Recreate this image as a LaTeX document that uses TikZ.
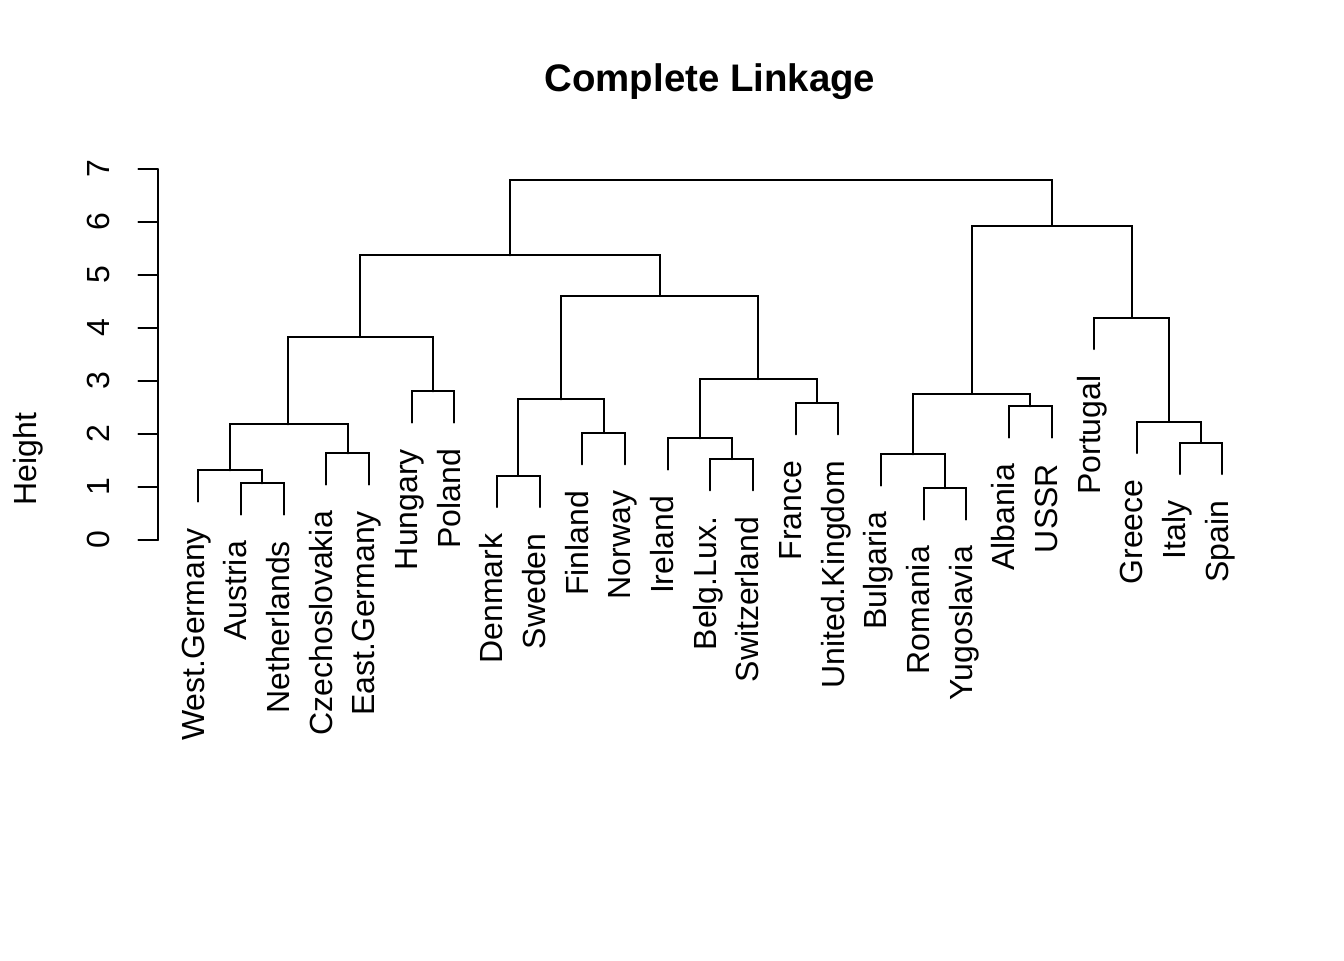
\documentclass[tikz,border=0pt]{standalone}
\usepackage{fontspec}
\setmainfont{Liberation Sans}
\usetikzlibrary{calc}
\tikzset{
  tree/.style={line width=0.75pt, line cap=round, line join=miter},
  lab/.style={rotate=90, anchor=base east, inner sep=0pt, font=\fontsize{12}{14}\selectfont},
  ticklab/.style={rotate=90, anchor=base, inner sep=0pt, font=\fontsize{12}{14}\selectfont},
}
\begin{document}
\begin{tikzpicture}[x=0.375pt, y=-0.375pt]
\path[use as bounding box] (0,0) rectangle (1344,960);
% leaves (bottom end of hanging branch)
\coordinate (wg)   at (198.3, 501.6);
\coordinate (aus)  at (240.97, 514.6);
\coordinate (neth) at (283.63, 514.6);
\coordinate (cz)   at (326.3, 484.6);
\coordinate (eg)   at (368.97, 484.6);
\coordinate (hun)  at (411.63, 422.6);
\coordinate (pol)  at (454.3, 422.6);
\coordinate (den)  at (496.97, 507);
\coordinate (swe)  at (539.63, 507);
\coordinate (fin)  at (582.3, 464.3);
\coordinate (nor)  at (624.97, 464.3);
\coordinate (ire)  at (667.63, 469.6);
\coordinate (bel)  at (710.3, 490.3);
\coordinate (swi)  at (752.97, 490.3);
\coordinate (fra)  at (795.63, 434.3);
\coordinate (uk)   at (838.3, 434.3);
\coordinate (bul)  at (880.97, 485.6);
\coordinate (rom)  at (923.63, 519.6);
\coordinate (yug)  at (966.3, 519.6);
\coordinate (alb)  at (1008.97, 437.6);
\coordinate (ussr) at (1051.63, 437.6);
\coordinate (por)  at (1094.3, 349);
\coordinate (gre)  at (1136.97, 453);
\coordinate (ita)  at (1179.63, 474);
\coordinate (spa)  at (1222.3, 474);
% merges
\coordinate (m1)  at (262.3, 483.3);
\coordinate (m2)  at (230.3, 470.3);
\coordinate (m3)  at (347.6, 453.3);
\coordinate (m4)  at (288.3, 424.3);
\coordinate (m5)  at (432.97, 391.3);
\coordinate (m6)  at (360.3, 337);
\coordinate (m7)  at (518.3, 475.7);
\coordinate (m8)  at (603.6, 433);
\coordinate (m9)  at (560.97, 399.3);
\coordinate (m10) at (731.6, 459);
\coordinate (m11) at (699.6, 438.3);
\coordinate (m12) at (816.97, 403);
\coordinate (m13) at (758.3, 379);
\coordinate (m14) at (659.6, 296);
\coordinate (m15) at (510.3, 255.3);
\coordinate (m16) at (944.97, 488.3);
\coordinate (m17) at (912.97, 454.3);
\coordinate (m18) at (1030.3, 406.3);
\coordinate (m19) at (971.6, 393.7);
\coordinate (m20) at (1200.97, 442.7);
\coordinate (m21) at (1168.97, 421.7);
\coordinate (m22) at (1131.6, 317.7);
\coordinate (m23) at (1051.63, 225.7);
\coordinate (m24) at (780.97, 179.7);
% tree
\draw[tree] (aus) |- (m1) -| (neth);
\draw[tree] (wg) |- (m2) -| (m1);
\draw[tree] (cz) |- (m3) -| (eg);
\draw[tree] (m2) |- (m4) -| (m3);
\draw[tree] (hun) |- (m5) -| (pol);
\draw[tree] (m4) |- (m6) -| (m5);
\draw[tree] (den) |- (m7) -| (swe);
\draw[tree] (fin) |- (m8) -| (nor);
\draw[tree] (m7) |- (m9) -| (m8);
\draw[tree] (bel) |- (m10) -| (swi);
\draw[tree] (ire) |- (m11) -| (m10);
\draw[tree] (fra) |- (m12) -| (uk);
\draw[tree] (m11) |- (m13) -| (m12);
\draw[tree] (m9) |- (m14) -| (m13);
\draw[tree] (m6) |- (m15) -| (m14);
\draw[tree] (rom) |- (m16) -| (yug);
\draw[tree] (bul) |- (m17) -| (m16);
\draw[tree] (alb) |- (m18) -| (ussr);
\draw[tree] (m17) |- (m19) -| (m18);
\draw[tree] (ita) |- (m20) -| (spa);
\draw[tree] (gre) |- (m21) -| (m20);
\draw[tree] (por) |- (m22) -| (m21);
\draw[tree] (m19) |- (m23) -| (m22);
\draw[tree] (m15) |- (m24) -| (m23);
% leaf labels
\node[lab] (Lwg)   at ($(wg)+(6,26)$) {West.Germany};
\node[lab] (Laus)  at ($(aus)+(6,26)$) {Austria};
\node[lab] (Lneth) at ($(neth)+(6,26)$) {Netherlands};
\node[lab] (Lcz)   at ($(cz)+(6,26)$) {Czechoslovakia};
\node[lab] (Leg)   at ($(eg)+(6,26)$) {East.Germany};
\node[lab] (Lhun)  at ($(hun)+(6,26)$) {Hungary};
\node[lab] (Lpol)  at ($(pol)+(6,26)$) {Poland};
\node[lab] (Lden)  at ($(den)+(6,26)$) {Denmark};
\node[lab] (Lswe)  at ($(swe)+(6,26)$) {Sweden};
\node[lab] (Lfin)  at ($(fin)+(6,26)$) {Finland};
\node[lab] (Lnor)  at ($(nor)+(6,26)$) {Norway};
\node[lab] (Lire)  at ($(ire)+(6,26)$) {Ireland};
\node[lab] (Lbel)  at ($(bel)+(6,26)$) {Belg.Lux.};
\node[lab] (Lswi)  at ($(swi)+(6,26)$) {Switzerland};
\node[lab] (Lfra)  at ($(fra)+(6,26)$) {France};
\node[lab] (Luk)   at ($(uk)+(6,26)$) {United.Kingdom};
\node[lab] (Lbul)  at ($(bul)+(6,26)$) {Bulgaria};
\node[lab] (Lrom)  at ($(rom)+(6,26)$) {Romania};
\node[lab] (Lyug)  at ($(yug)+(6,26)$) {Yugoslavia};
\node[lab] (Lalb)  at ($(alb)+(6,26)$) {Albania};
\node[lab] (Lussr) at ($(ussr)+(6,26)$) {USSR};
\node[lab] (Lpor)  at ($(por)+(6,26)$) {Portugal};
\node[lab] (Lgre)  at ($(gre)+(6,26)$) {Greece};
\node[lab] (Lita)  at ($(ita)+(6,26)$) {Italy};
\node[lab] (Lspa)  at ($(spa)+(6,26)$) {Spain};
% axis
\draw[tree] (157.7,540) -- (157.7,169);
\foreach \k in {0,...,7} {
  \draw[tree] (138.3,{540-53*\k}) -- (157.7,{540-53*\k});
  \node[ticklab] (t\k) at (110,{540-53*\k}) {\k};
}
\node[ticklab] (ylab) at (36.7,459) {Height};
\node[anchor=base, inner sep=0pt, font=\fontsize{14.4}{17}\selectfont\bfseries] (title) at (710,91.5) {Complete Linkage};
\end{tikzpicture}
\end{document}
